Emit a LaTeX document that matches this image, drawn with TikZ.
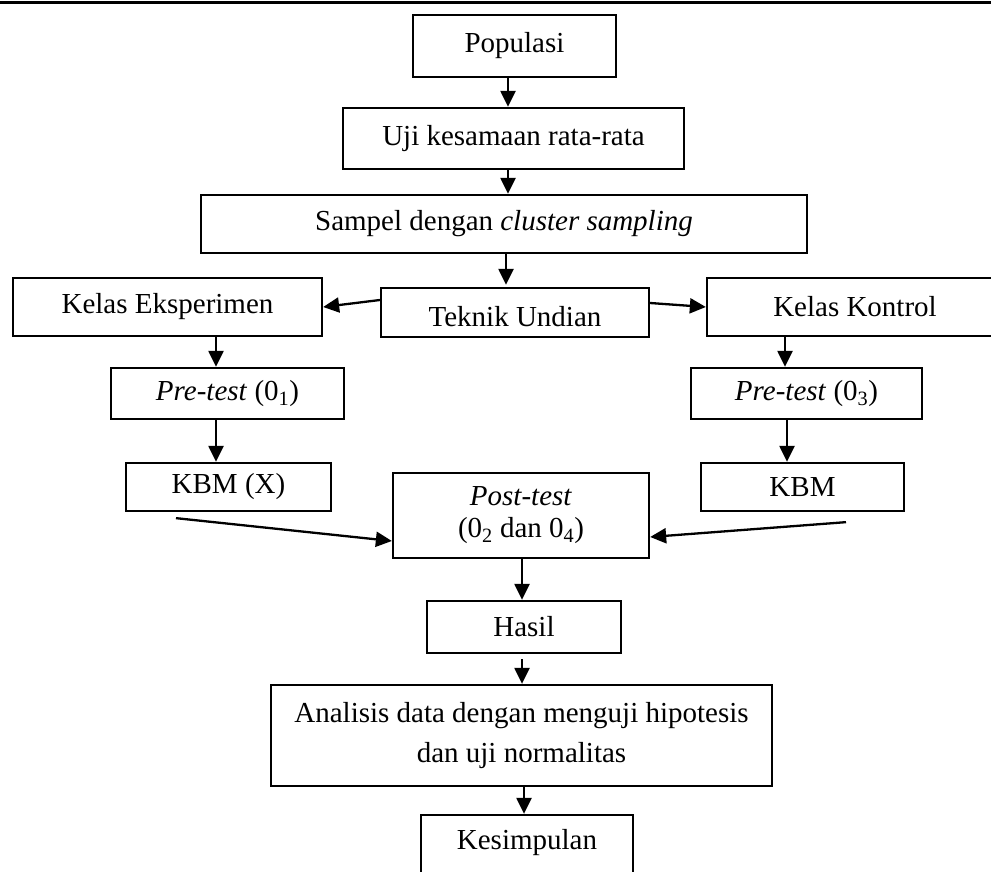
\documentclass[tikz,border=0pt]{standalone}
\usepackage{fontspec}
\setmainfont{Liberation Serif}
\usetikzlibrary{arrows.meta}
\begin{document}
\begin{tikzpicture}[x=1pt,y=-1pt,
  box/.style={draw,line width=2.3pt,inner sep=0pt,align=center,font=\fontsize{29}{32}\selectfont},
  arr/.style={line width=2.3pt,-{Triangle[length=16pt,width=15pt]}}]
\fill[white] (0,0) rectangle (991,872);
\useasboundingbox (0,0) rectangle (991,872);
\draw[line width=3pt] (0,3) -- (991,3);
% boxes
\node[box,minimum width=203pt,minimum height=62pt] (pop) at (514.5,46) {Populasi};
\node[box,minimum width=341pt,minimum height=61pt] (uji) at (513.5,138.5) {Uji kesamaan rata-rata};
\node[box,minimum width=606pt,minimum height=58pt] (sam) at (504,224) {Sampel dengan \textit{cluster sampling}};
\node[box,minimum width=309pt,minimum height=58pt] (ke) at (167.5,307) {Kelas Eksperimen};
\node[box,minimum width=268pt,minimum height=49pt,label={[name=tekt,yshift=-4.5pt,font=\fontsize{29}{32}\selectfont]center:Teknik Undian}] (tek) at (515,312.5) {};
\node[box,minimum width=296pt,minimum height=58pt] (kk) at (855,307) {Kelas Kontrol};
\node[box,minimum width=233pt,minimum height=51pt] (pre1) at (227.5,393.5) {\textit{Pre-test} (0\textsubscript{1})};
\node[box,minimum width=205pt,minimum height=48pt] (kbmx) at (228.5,487) {KBM (X)};
\node[box,minimum width=231pt,minimum height=51pt] (pre3) at (806.5,393.5) {\textit{Pre-test} (0\textsubscript{3})};
\node[box,minimum width=203pt,minimum height=48pt] (kbm) at (802.5,487) {KBM};
\node[box,minimum width=256pt,minimum height=85pt] (post) at (521,515.5) {\textit{Post-test}\\(0\textsubscript{2} dan 0\textsubscript{4})};
\node[box,minimum width=194pt,minimum height=52pt] (has) at (524,627) {Hasil};
\node[box,minimum width=501pt,minimum height=101pt] (ana) at (521.5,735.5) {Analisis data dengan menguji hipotesis\\[8pt]dan uji normalitas};
\node[box,minimum width=212pt,minimum height=70pt,label={[name=kest,yshift=7pt,font=\fontsize{29}{32}\selectfont]center:Kesimpulan}] (kes) at (527,850) {};
% connectors
\draw[arr] ([xshift=-6.5pt]pop.south) -- ([xshift=-5.5pt]uji.north);
\draw[arr] ([xshift=-5.5pt]uji.south) -- ([xshift=4pt]sam.north);
\draw[arr] ([xshift=2pt]sam.south) -- ([xshift=-9pt,yshift=2pt]tek.north);
\draw[arr] ([yshift=12.5pt]tek.west) -- (ke.east);
\draw[arr] ([yshift=9.5pt]tek.east) -- (kk.west);
\draw[arr] ([xshift=48.5pt]ke.south) -- ([xshift=-11.5pt]pre1.north);
\draw[arr] ([xshift=-11.5pt]pre1.south) -- ([xshift=-12.5pt]kbmx.north);
\draw[arr] ([xshift=-70pt]kk.south) -- ([xshift=-21.5pt]pre3.north);
\draw[arr] ([xshift=-19.5pt]pre3.south) -- ([xshift=-15.5pt]kbm.north);
\coordinate (sl) at ([xshift=-52.5pt,yshift=-6pt]kbmx.south);
\coordinate (sr) at ([xshift=43.5pt,yshift=-10pt]kbm.south);
\draw[arr] (sl) -- ([yshift=-25.5pt]post.west);
\draw[arr] (sr) -- ([yshift=-21.5pt]post.east);
\draw[arr] ([xshift=1pt]post.south) -- ([xshift=-2pt]has.north);
\coordinate (hs) at ([xshift=-2pt,yshift=-5pt]has.south);
\draw[arr] (hs) -- ([xshift=0.5pt]ana.north);
\draw[arr] ([xshift=2.5pt]ana.south) -- ([xshift=-3pt]kes.north);
\end{tikzpicture}
\end{document}
